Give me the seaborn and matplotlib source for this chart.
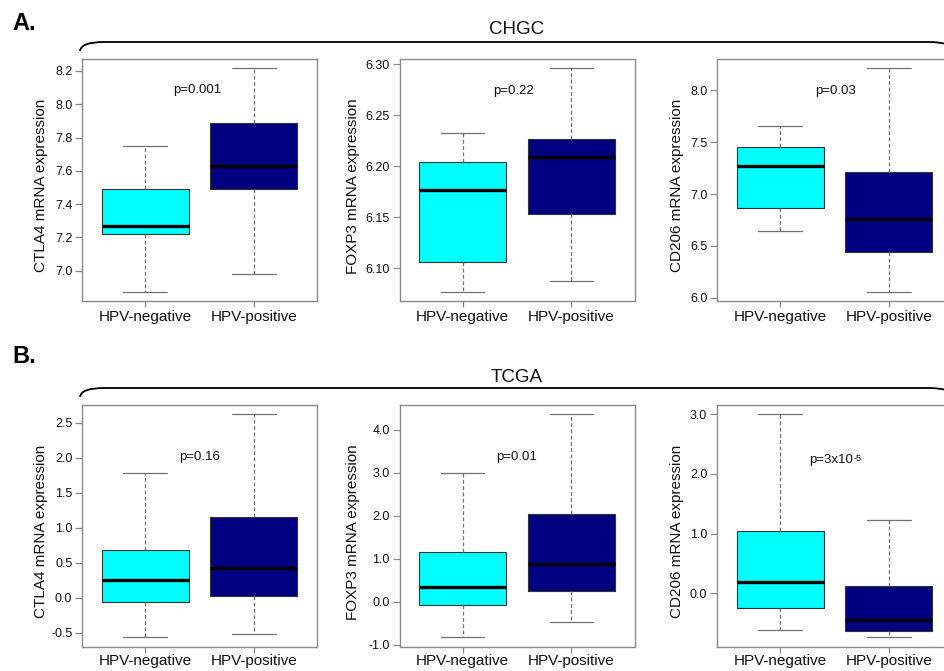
import numpy as np
import pandas as pd
import matplotlib
matplotlib.use("Agg")
import matplotlib.pyplot as plt
import seaborn as sns
from matplotlib.path import Path
from matplotlib.patches import PathPatch
from matplotlib.ticker import FixedLocator, FormatStrFormatter

# ---------------- data (five-number summaries: min, Q1, median, Q3, max) ----------------
groups = ["HPV-negative", "HPV-positive"]
box_colors = ["#00FFFF", "#000080"]

chgc_ctla4_neg = [6.87, 7.22, 7.27, 7.49, 7.75]
chgc_ctla4_pos = [6.98, 7.49, 7.63, 7.89, 8.22]
chgc_foxp3_neg = [6.077, 6.106, 6.177, 6.204, 6.233]
chgc_foxp3_pos = [6.088, 6.153, 6.209, 6.227, 6.296]
chgc_cd206_neg = [6.64, 6.87, 7.27, 7.45, 7.655]
chgc_cd206_pos = [6.06, 6.44, 6.76, 7.21, 8.22]

tcga_ctla4_neg = [-0.57, -0.07, 0.245, 0.68, 1.773]
tcga_ctla4_pos = [-0.52, 0.025, 0.426, 1.153, 2.63]
tcga_foxp3_neg = [-0.82, -0.07, 0.35, 1.17, 2.99]
tcga_foxp3_pos = [-0.47, 0.25, 0.89, 2.04, 4.36]
tcga_cd206_neg = [-0.626, -0.257, 0.184, 1.044, 3.0]
tcga_cd206_pos = [-0.737, -0.642, -0.452, 0.123, 1.22]

ylabels = ["CTLA4 mRNA expression", "FOXP3 mRNA expression", "CD206 mRNA expression"]
p_texts = ["p=0.001", "p=0.22", "p=0.03", "p=0.16", "p=0.01", "p=3x10"]
p_sups = ["", "", "", "", "", "-5"]
p_y = [8.085, 6.2734, 7.993, 2.007, 3.379, 2.234]
p_x = [0.48, 0.47, 0.51, 0.50, 0.50, 0.47]

yticks_list = [
    [7.0, 7.2, 7.4, 7.6, 7.8, 8.0, 8.2],
    [6.10, 6.15, 6.20, 6.25, 6.30],
    [6.0, 6.5, 7.0, 7.5, 8.0],
    [-0.5, 0.0, 0.5, 1.0, 1.5, 2.0, 2.5],
    [-1.0, 0.0, 1.0, 2.0, 3.0, 4.0],
    [0.0, 1.0, 2.0, 3.0],
]
ytick_fmt = ["%.1f", "%.2f", "%.1f", "%.1f", "%.1f", "%.1f"]
ylims = [(6.82, 8.272), (6.0685, 6.305), (5.974, 8.302),
         (-0.70, 2.752), (-1.04, 4.58), (-0.895, 3.156)]

panel_data = [
    (chgc_ctla4_neg, chgc_ctla4_pos),
    (chgc_foxp3_neg, chgc_foxp3_pos),
    (chgc_cd206_neg, chgc_cd206_pos),
    (tcga_ctla4_neg, tcga_ctla4_pos),
    (tcga_foxp3_neg, tcga_foxp3_pos),
    (tcga_cd206_neg, tcga_cd206_pos),
]
cohorts = ["CHGC", "TCGA"]
section_labels = ["A.", "B."]

# ---------------- style ----------------
sns.set_style("white")
plt.rcParams["font.family"] = ["Liberation Sans", "DejaVu Sans"]

W, H = 944, 671
fig = plt.figure(figsize=(W / 100, H / 100), dpi=100)

col_left = [82, 399.5, 717]
row_top = [59, 405]
ax_w, ax_h = 235, 241.5
label_x = [-0.143, -0.167, -0.142]
xpad = [3, 1.5]

for i, (neg, pos) in enumerate(panel_data):
    r, c = divmod(i, 3)
    left = col_left[c]
    top = row_top[r]
    ax = fig.add_axes([left / W, 1 - (top + ax_h) / H, ax_w / W, ax_h / H])
    df = pd.DataFrame({"group": np.repeat(groups, 5), "value": list(neg) + list(pos)})
    sns.boxplot(
        data=df, x="group", y="value", hue="group", order=groups, hue_order=groups,
        palette=box_colors, saturation=1, legend=False, width=0.8, whis=(0, 100),
        linecolor="#333333", linewidth=0.8, fliersize=0, ax=ax,
        medianprops=dict(color="black", linewidth=2.4),
        whiskerprops=dict(color="#707070", linestyle=(0, (3, 2)), linewidth=0.9),
        capprops=dict(color="#707070", linewidth=0.9),
    )
    ax.set_xlim(-0.58, 1.58)
    ax.set_ylim(*ylims[i])
    ax.yaxis.set_major_locator(FixedLocator(yticks_list[i]))
    ax.yaxis.set_major_formatter(FormatStrFormatter(ytick_fmt[i]))
    ax.set_xlabel("")
    ax.set_ylabel(ylabels[c], fontsize=11, color="#111111")
    ax.yaxis.set_label_coords(label_x[c], 0.475)
    for sp in ax.spines.values():
        sp.set_visible(True)
        sp.set_color("#8a8a8a")
        sp.set_linewidth(1.0)
    ax.tick_params(axis="y", direction="out", length=5, width=0.9, color="#8a8a8a",
                   labelsize=9, pad=2, labelcolor="#111111", left=True)
    ax.tick_params(axis="x", direction="out", length=4, width=0.9, color="#8a8a8a",
                   labelsize=11, pad=xpad[r], labelcolor="#111111", bottom=True)
    if p_sups[i]:
        t = ax.text(p_x[i], p_y[i], p_texts[i], ha="center", va="center",
                    fontsize=9.5, color="#111111")
        ax.annotate(p_sups[i], xy=(1, 1), xycoords=t, xytext=(0.5, 0),
                    textcoords="offset points", ha="left", va="top",
                    fontsize=6.5, color="#111111")
    else:
        ax.text(p_x[i], p_y[i], p_texts[i], ha="center", va="center", fontsize=9.5,
                color="#111111")

# ---------------- overlay: braces, cohort titles, section letters ----------------
ov = fig.add_axes([0, 0, 1, 1])
ov.set_xlim(0, W)
ov.set_ylim(H, 0)
ov.axis("off")
ov.patch.set_visible(False)

brace_y = [42, 388]
title_y = [34, 382]
letter_y = [30, 363]
for r in range(2):
    y = brace_y[r]
    verts = [(80, y + 9), (81, y), (104, y), (929, y), (952, y), (953, y + 9)]
    codes = [Path.MOVETO, Path.CURVE3, Path.CURVE3, Path.LINETO, Path.CURVE3, Path.CURVE3]
    ov.add_patch(PathPatch(Path(verts, codes), facecolor="none", edgecolor="black",
                           linewidth=1.3, clip_on=False))
    ov.text(516.7, title_y[r], cohorts[r], ha="center", va="baseline", fontsize=13.5,
            color="#111111")
    ov.text(12, letter_y[r], section_labels[r], ha="left", va="baseline", fontsize=17,
            fontweight="bold", color="black")

fig.savefig("out.png", dpi=100)
